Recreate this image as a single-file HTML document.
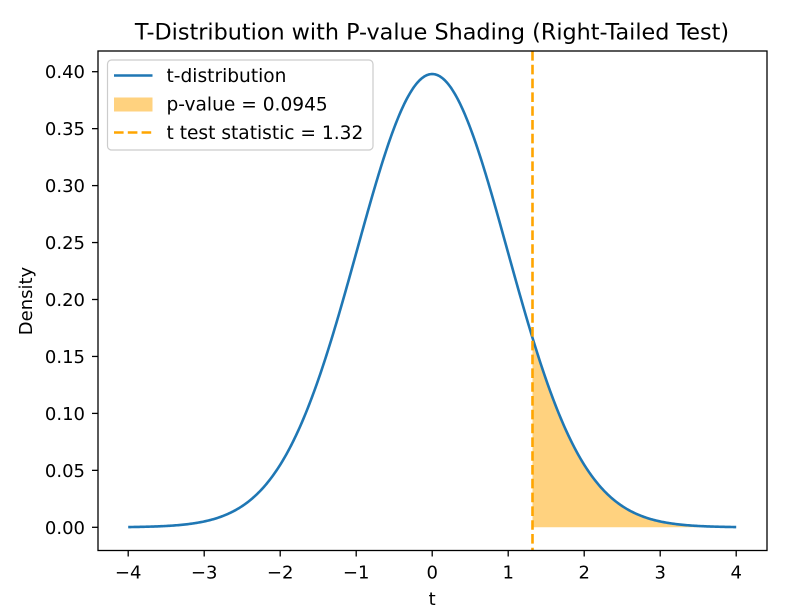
<!DOCTYPE html>
<html>
<head>
<meta charset="utf-8">
<style>
  html, body { margin:0; padding:0; background:#fff; }
  svg { display:block; }
  text { font-family: "DejaVu Sans", "Liberation Sans", sans-serif; fill:#000; }
</style>
</head>
<body>
<svg id="chart" width="795" height="613" viewBox="0 0 795 613" xmlns="http://www.w3.org/2000/svg">
  <rect x="0" y="0" width="795" height="613" fill="#fff"/>
  <path id="fillp" d="" fill="#ffa500" fill-opacity="0.5" stroke="none"/>
  <path id="curve" d="" fill="none" stroke="#1f77b4" stroke-width="2.6" stroke-linejoin="round" stroke-linecap="butt"/>
  <line x1="532.5" y1="51" x2="532.5" y2="550.5" stroke="#ffa500" stroke-width="2.6" stroke-dasharray="9.6 4.2"/>

  <rect x="98" y="51" width="669" height="499.5" fill="none" stroke="#000" stroke-width="1.3"/>

  <g stroke="#000" stroke-width="1.3">
    <line x1="92" y1="527.3" x2="98" y2="527.3"/>
    <line x1="92" y1="470.35" x2="98" y2="470.35"/>
    <line x1="92" y1="413.4" x2="98" y2="413.4"/>
    <line x1="92" y1="356.45" x2="98" y2="356.45"/>
    <line x1="92" y1="299.5" x2="98" y2="299.5"/>
    <line x1="92" y1="242.55" x2="98" y2="242.55"/>
    <line x1="92" y1="185.6" x2="98" y2="185.6"/>
    <line x1="92" y1="128.65" x2="98" y2="128.65"/>
    <line x1="92" y1="71.7" x2="98" y2="71.7"/>
  </g>
  <g font-size="18" text-anchor="end">
    <text x="85" y="533.8">0.00</text>
    <text x="85" y="476.85">0.05</text>
    <text x="85" y="419.9">0.10</text>
    <text x="85" y="362.95">0.15</text>
    <text x="85" y="306">0.20</text>
    <text x="85" y="249.05">0.25</text>
    <text x="85" y="192.1">0.30</text>
    <text x="85" y="135.15">0.35</text>
    <text x="85" y="78.2">0.40</text>
  </g>

  <g stroke="#000" stroke-width="1.3">
    <line x1="128.2" y1="550.5" x2="128.2" y2="556.5"/>
    <line x1="204.2" y1="550.5" x2="204.2" y2="556.5"/>
    <line x1="280.2" y1="550.5" x2="280.2" y2="556.5"/>
    <line x1="356.2" y1="550.5" x2="356.2" y2="556.5"/>
    <line x1="432.2" y1="550.5" x2="432.2" y2="556.5"/>
    <line x1="508.2" y1="550.5" x2="508.2" y2="556.5"/>
    <line x1="584.2" y1="550.5" x2="584.2" y2="556.5"/>
    <line x1="660.2" y1="550.5" x2="660.2" y2="556.5"/>
    <line x1="736.2" y1="550.5" x2="736.2" y2="556.5"/>
  </g>
  <g font-size="18" text-anchor="middle">
    <text x="128.2" y="578.5">−4</text>
    <text x="204.2" y="578.5">−3</text>
    <text x="280.2" y="578.5">−2</text>
    <text x="356.2" y="578.5">−1</text>
    <text x="432.2" y="578.5">0</text>
    <text x="508.2" y="578.5">1</text>
    <text x="584.2" y="578.5">2</text>
    <text x="660.2" y="578.5">3</text>
    <text x="736.2" y="578.5">4</text>
  </g>

  <text x="432.2" y="605" font-size="18" text-anchor="middle">t</text>
  <text x="0" y="0" font-size="18" text-anchor="middle" transform="translate(32,301) rotate(-90)">Density</text>

  <text x="432" y="39.3" font-size="22.3" text-anchor="middle">T-Distribution with P-value Shading (Right-Tailed Test)</text>

  <rect x="107.5" y="60" width="265.5" height="90" rx="4" ry="4" fill="#fff" fill-opacity="0.8" stroke="#cccccc" stroke-width="1.2"/>
  <line x1="114" y1="75.5" x2="152.5" y2="75.5" stroke="#1f77b4" stroke-width="2.6"/>
  <rect x="114" y="97.5" width="38.5" height="14" fill="#ffa500" fill-opacity="0.5"/>
  <line x1="114" y1="132.5" x2="152.5" y2="132.5" stroke="#ffa500" stroke-width="2.6" stroke-dasharray="9.6 4.2"/>
  <g font-size="18.6">
    <text x="166.5" y="82">t-distribution</text>
    <text x="166.5" y="110.5">p-value = 0.0945</text>
    <text x="166.5" y="139">t test statistic = 1.32</text>
  </g>
</svg>
<script>
(function(){
  var df = 100;
  function lgamma(z){
    var g=7, p=[0.99999999999980993,676.5203681218851,-1259.1392167224028,771.32342877765313,-176.61502916214059,12.507343278686905,-0.13857109526572012,9.9843695780195716e-6,1.5056327351493116e-7];
    z-=1; var x=p[0]; for(var i=1;i<g+2;i++) x+=p[i]/(z+i);
    var t=z+g+0.5; return 0.5*Math.log(2*Math.PI)+(z+0.5)*Math.log(t)-t+Math.log(x);
  }
  var c = Math.exp(lgamma((df+1)/2)-lgamma(df/2))/Math.sqrt(df*Math.PI);
  function pdf(t){ return c*Math.pow(1+t*t/df, -(df+1)/2); }
  function X(t){ return 432.2 + 76.0*t; }
  function Y(v){ return 527.3 - 1139*v; }
  var n=500, d="";
  for(var i=0;i<=n;i++){
    var t=-4+8*i/n;
    d += (i?"L":"M")+X(t).toFixed(2)+","+Y(pdf(t)).toFixed(2);
  }
  document.getElementById("curve").setAttribute("d", d);
  var t0=1.32, f="M"+X(t0).toFixed(2)+","+Y(0).toFixed(2);
  var m=300;
  for(var j=0;j<=m;j++){
    var tt=t0+(4-t0)*j/m;
    f+="L"+X(tt).toFixed(2)+","+Y(pdf(tt)).toFixed(2);
  }
  f+="L"+X(4).toFixed(2)+","+Y(0).toFixed(2)+"Z";
  document.getElementById("fillp").setAttribute("d", f);
})();
</script>
</body>
</html>
